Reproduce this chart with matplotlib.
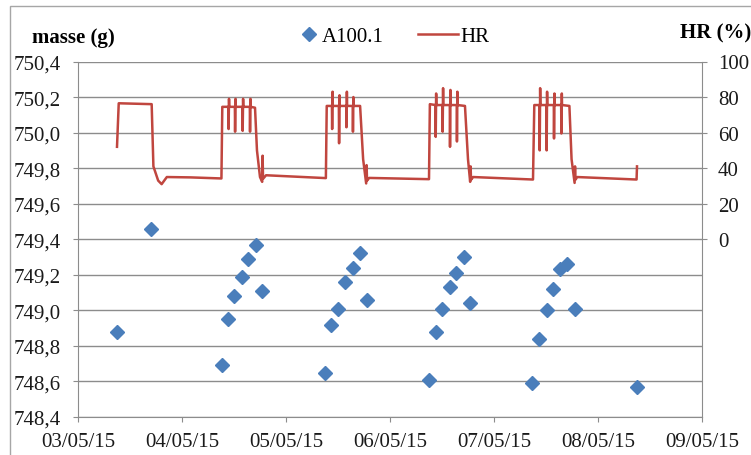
import datetime
import matplotlib
matplotlib.use("Agg")
import matplotlib.pyplot as plt
import matplotlib.dates as mdate
from matplotlib.lines import Line2D
from matplotlib.patches import Rectangle
from matplotlib.ticker import FuncFormatter
import pandas as pd

plt.rcParams['font.family'] = ['Liberation Serif', 'DejaVu Serif']

# pesées de l'échantillon A100.1
mass_time = ["2015-05-03 08:55", "2015-05-03 16:46",
             "2015-05-04 09:10", "2015-05-04 10:32", "2015-05-04 12:00", "2015-05-04 13:46",
             "2015-05-04 15:19", "2015-05-04 17:01", "2015-05-04 18:32",
             "2015-05-05 09:00", "2015-05-05 10:24", "2015-05-05 12:04", "2015-05-05 13:41",
             "2015-05-05 15:23", "2015-05-05 17:01", "2015-05-05 18:37",
             "2015-05-06 09:04", "2015-05-06 10:32", "2015-05-06 12:00", "2015-05-06 13:46",
             "2015-05-06 15:19", "2015-05-06 17:08", "2015-05-06 18:27",
             "2015-05-07 08:50", "2015-05-07 10:28", "2015-05-07 12:10", "2015-05-07 13:32",
             "2015-05-07 15:14", "2015-05-07 16:55", "2015-05-07 18:42",
             "2015-05-08 09:00"]
mass = [748.88, 749.46,
        748.69, 748.95, 749.08, 749.19, 749.29, 749.37, 749.11,
        748.65, 748.92, 749.01, 749.16, 749.24, 749.32, 749.06,
        748.61, 748.88, 749.01, 749.13, 749.21, 749.30, 749.04,
        748.59, 748.84, 749.00, 749.12, 749.23, 749.26, 749.01,
        748.57]

# HR enregistrée (heures depuis le 03/05/15 00:00)
hr_hours = [9.0, 9.4, 17.0, 17.4, 18.5, 19.3, 20.5, 26.0, 33.1,
            33.3, 34.7, 34.75, 34.85, 34.9, 36.2, 36.25, 36.35, 36.4,
            37.95, 38.0, 38.1, 38.15, 39.65, 39.7, 39.8, 39.85,
            40.85, 41.3, 42.0, 42.5, 42.6, 42.7, 43.4, 57.2,
            57.4, 58.6, 58.65, 58.75, 58.8, 60.2, 60.25, 60.35, 60.4,
            61.9, 61.95, 62.05, 62.1, 63.4, 63.45, 63.55, 63.6,
            65.1, 65.8, 66.5, 66.6, 66.7, 67.2, 81.0,
            81.2, 82.5, 82.55, 82.65, 82.7, 84.1, 84.15, 84.25, 84.3,
            85.8, 85.85, 85.95, 86.0, 87.4, 87.45, 87.55, 87.6,
            89.3, 90.0, 90.5, 90.6, 90.7, 91.2, 105.0,
            105.3, 106.5, 106.55, 106.65, 106.7, 108.1, 108.15, 108.25, 108.3,
            109.8, 109.85, 109.95, 110.0, 111.5, 111.55, 111.65, 111.7,
            113.4, 113.9, 114.6, 114.7, 114.8, 115.2, 128.9, 129.0]
hr = [52, 76.5, 76, 41, 33, 31, 35, 34.8, 34.2,
      74.5, 74.5, 62, 79, 74.5, 74.5, 60.5, 79, 74.5,
      74.5, 61, 79, 74.5, 74.5, 60.5, 79, 74.5,
      74, 50, 35, 32.3, 47, 34, 36, 34.4,
      75, 75, 62, 83, 75, 75, 54, 81, 75,
      75, 63, 83, 75, 75, 60.5, 80, 75,
      75, 45, 31.4, 41.7, 33, 34.5, 33.8,
      76, 75.5, 57.6, 82, 75.5, 75.5, 60.5, 85, 75.5,
      75.5, 52, 84, 75.5, 75.5, 55, 83, 75.5,
      75, 45, 32.3, 41, 33.5, 35, 33.6,
      75.5, 75.5, 50, 85, 75.5, 75.5, 50, 83, 75.5,
      75.5, 56.7, 82, 75.5, 75.5, 59.5, 82, 75.5,
      75, 45, 31.7, 41, 33.5, 35, 33.6, 41]

blue = '#4A7EBB'
red = '#C0463F'
grey = '#8C8C8C'

t0 = datetime.datetime(2015, 5, 3)
mt = pd.to_datetime(mass_time)
ht = [t0 + datetime.timedelta(hours=h) for h in hr_hours]

fig = plt.figure(figsize=(7.51, 4.56), dpi=100)
ax = fig.add_axes([78 / 751, 38 / 456, 624 / 751, 355.5 / 456])
ax.plot(mt, mass, ls='none', marker='D', markersize=7.5, color=blue, zorder=3)
ax.set_ylim(748.4, 750.4)
ax.set_yticks([748.4 + 0.2 * i for i in range(11)])
ax.yaxis.set_major_formatter(FuncFormatter(lambda v, p: f"{v:.1f}".replace('.', ',')))
ax.set_xlim(t0, t0 + datetime.timedelta(days=6))
ax.xaxis.set_major_locator(mdate.DayLocator())
ax.xaxis.set_major_formatter(mdate.DateFormatter('%d/%m/%y'))
ax.grid(axis='y', color=grey, lw=1)
ax.set_axisbelow(True)
for s in ['top', 'right']:
    ax.spines[s].set_visible(False)
for s in ['left', 'bottom']:
    ax.spines[s].set_color(grey)
ax.tick_params(axis='y', length=3.6, color=grey, pad=9, labelsize=15, labelcolor='#1a1a1a')
ax.tick_params(axis='x', length=3.6, color=grey, pad=7, labelsize=15, labelcolor='#1a1a1a')

ax2 = ax.twinx()
ax2.plot(ht, hr, color=red, lw=1.8)
ax2.set_ylim(-100, 100)
ax2.set_yticks(range(0, 101, 20))
for s in ['top', 'left', 'bottom']:
    ax2.spines[s].set_visible(False)
ax2.spines['right'].set_color(grey)
ax2.tick_params(axis='y', length=3.6, color=grey, pad=8, labelsize=15, labelcolor='#1a1a1a')

fig.text(32 / 751, 1 - 38 / 456, 'masse (g)', fontsize=15, fontweight='bold', va='center')
fig.text(680 / 751, 1 - 33 / 456, 'HR (%)', fontsize=15, fontweight='bold', va='center')

# légende en deux morceaux (poignées de largeurs différentes)
h1 = Line2D([], [], ls='none', marker='D', markersize=7.5, color=blue)
h2 = Line2D([], [], color=red, lw=1.8)
leg1 = fig.legend([h1], ['A100.1'], loc='center left', bbox_to_anchor=(301 / 751, 1 - 37 / 456),
                  frameon=False, fontsize=15, handlelength=0.8, handletextpad=0.2,
                  borderpad=0, borderaxespad=0)
leg2 = fig.legend([h2], ['HR'], loc='center left', bbox_to_anchor=(418 / 751, 1 - 37 / 456),
                  frameon=False, fontsize=15, handlelength=1.92, handletextpad=0.1,
                  borderpad=0, borderaxespad=0)

# cadre du graphique
fig.patches.append(Rectangle((10 / 751, -0.5), 2, 0.5 + 449 / 456, transform=fig.transFigure,
                             fill=False, ec='#A6A6A6', lw=1))

fig.savefig('out.png', dpi=100)
